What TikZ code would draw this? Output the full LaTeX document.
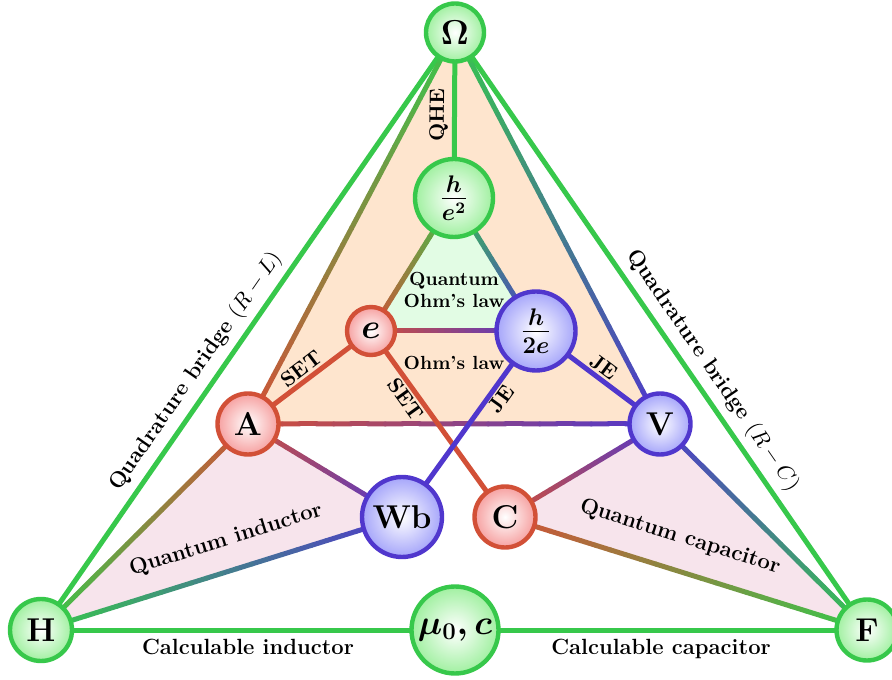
\documentclass[tikz,border=0pt]{standalone}
\usetikzlibrary{math,calc}

\definecolor{qgreen}{RGB}{55,200,75}
\definecolor{qred}{RGB}{210,80,55}
\definecolor{qblue}{RGB}{80,55,205}
\definecolor{gshade}{RGB}{160,240,160}
\definecolor{rshade}{RGB}{246,160,160}
\definecolor{bshade}{RGB}{165,165,250}
\definecolor{peach}{RGB}{254,229,206}
\definecolor{mint}{RGB}{226,252,228}
\definecolor{blush}{RGB}{247,228,236}

\pgfdeclarelayer{fills}
\pgfdeclarelayer{links}
\pgfsetlayers{fills,links,main}

\tikzset{
	unit/.style={circle, line width=2.2pt, inner sep=0pt, text=black, font=\fontsize{16.5}{19}\selectfont\bfseries\boldmath},
	gunit/.style={unit, draw=qgreen, inner color=white, outer color=gshade},
	runit/.style={unit, draw=qred, inner color=white, outer color=rshade},
	bunit/.style={unit, draw=qblue, inner color=white, outer color=bshade},
	link/.style={line width=2.5pt, line cap=round},
	effect/.style={text=black, font=\fontsize{10.5}{12}\selectfont\bfseries, sloped, inner sep=2pt},
	device/.style={text=black, font=\fontsize{11}{13}\selectfont\bfseries},
	law/.style={text=black, font=\fontsize{9.5}{11}\selectfont\bfseries},
}

% colour-graded link from unit #1 (colour #3) to unit #2 (colour #4)
\newcommand{\gradlink}[4]{%
	\foreach \k in {0,...,23} {
		\pgfmathsetmacro{\segA}{\k/24}
		\pgfmathsetmacro{\segB}{(\k+1)/24}
		\pgfmathsetmacro{\segmix}{100-100*(\k+0.5)/24}
		\draw[link, draw=#3!\segmix!#4] ($(#1.center)!\segA!(#2.center)$) -- ($(#1.center)!\segB!(#2.center)$);
	}%
}

\begin{document}
\begin{tikzpicture}[x=0.5pt, y=0.5pt]
	% Rows
	\tikzmath{\toprow = 646.5; \fracrow = 481; \ohmrow = 348; \midrow = 255; \lowrow = 162; \botrow = 49;}
	\useasboundingbox (0,0) rectangle (892,679);

	% Units
	\node[gunit, minimum size=29pt] (Om) at (455,\toprow) {$\Omega$};
	\node[gunit, minimum size=39pt] (he2) at (454,\fracrow) {$\frac{h}{e^2}$};
	\node[runit, minimum size=24pt] (e) at (371,\ohmrow) {$e$};
	\node[bunit, minimum size=39.5pt] (h2e) at (536,\ohmrow) {$\frac{h}{2e}$};
	\node[runit, minimum size=30.5pt] (A) at (248,\midrow) {A};
	\node[bunit, minimum size=30.5pt] (V) at (660,\midrow) {V};
	\node[bunit, minimum size=40pt] (Wb) at (402,\lowrow) {Wb};
	\node[runit, minimum size=30.5pt] (C) at (505,\lowrow) {C};
	\node[gunit, minimum size=31pt] (H) at (41,\botrow) {H};
	\node[gunit, minimum size=43.5pt] (mu) at (455,\botrow) {$\mu_0, c$};
	\node[gunit, minimum size=30.5pt] (F) at (867,\botrow) {F};

	% Areas
	\begin{pgfonlayer}{fills}
		\fill[peach] (Om.center) -- (A.center) -- (V.center) -- cycle;
		\fill[mint] (he2.center) -- (e.center) -- (h2e.center) -- cycle;
		\fill[blush] (A.center) -- (Wb.center) -- (H.center) -- cycle;
		\fill[blush] (V.center) -- (C.center) -- (F.center) -- cycle;
	\end{pgfonlayer}

	% Links
	\begin{pgfonlayer}{links}
		\draw[link, qgreen] (H.center) -- (Om.center) node[pos=0.414, above, sloped, device] {Quadrature bridge $(R-L)$};
		\draw[link, qgreen] (Om.center) -- (F.center) node[pos=0.585, above, sloped, device] {Quadrature bridge $(R-C)$};
		\draw[link, qgreen] (he2.center) -- (Om.center) node[midway, above, effect] {QHE};
		\draw[link, qgreen] (H.center) -- (mu.center) node[midway, below, device] {Calculable inductor};
		\draw[link, qgreen] (mu.center) -- (F.center) node[midway, below, device] {Calculable capacitor};
		\gradlink{Om}{A}{qgreen}{qred}
		\gradlink{Om}{V}{qgreen}{qblue}
		\gradlink{he2}{e}{qgreen}{qred}
		\gradlink{he2}{h2e}{qgreen}{qblue}
		\gradlink{e}{h2e}{qred}{qblue}
		\gradlink{A}{V}{qred}{qblue}
		\draw[link, qred] (e.center) -- (A.center);
		\draw[link, qred] (e.center) -- (C.center);
		\draw[link, qblue] (h2e.center) -- (V.center);
		\draw[link, qblue] (h2e.center) -- (Wb.center);
		\gradlink{A}{Wb}{qred}{qblue}
		\gradlink{A}{H}{qred}{qgreen}
		\gradlink{V}{C}{qblue}{qred}
		\gradlink{V}{F}{qblue}{qgreen}
		\gradlink{Wb}{H}{qblue}{qgreen}
		\gradlink{C}{F}{qred}{qgreen}
	\end{pgfonlayer}

	% Labels
	\path (A.center) -- (e.center) node[pos=0.49, above, effect] {SET};
	\path (e.center) -- (C.center) node[pos=0.33, below, effect] {SET};
	\path (Wb.center) -- (h2e.center) node[pos=0.67, below, effect] {JE};
	\path (h2e.center) -- (V.center) node[pos=0.49, above, effect] {JE};
	\node[law, align=center] (qohm) at (454,389) {Quantum\\Ohm's law};
	\node[law] (ohm) at (454,316) {Ohm's law};
	\node[device, rotate=17.4] (qind) at (226,139) {Quantum inductor};
	\node[device, rotate=-17.3] (qcap) at (680,142) {Quantum capacitor};
\end{tikzpicture}
\end{document}
